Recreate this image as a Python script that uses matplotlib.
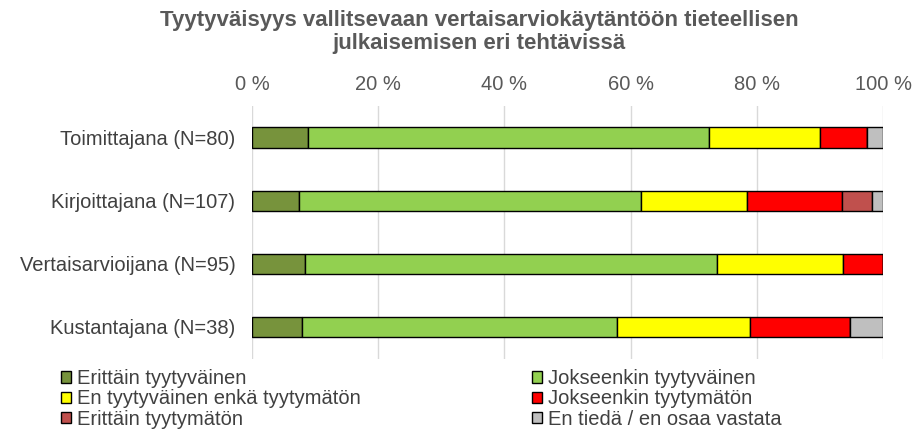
import matplotlib
matplotlib.use("Agg")
import matplotlib.pyplot as plt
import numpy as np

plt.rcParams['font.family'] = ['Liberation Sans', 'DejaVu Sans']

roles = ["Toimittajana (N=80)", "Kirjoittajana (N=107)",
         "Vertaisarvioijana (N=95)", "Kustantajana (N=38)"]
series_names = ["Erittäin tyytyväinen", "Jokseenkin tyytyväinen",
                "En tyytyväinen enkä tyytymätön", "Jokseenkin tyytymätön",
                "Erittäin tyytymätön", "En tiedä / en osaa vastata"]
# shares in percent, per role (same order as roles)
erittain_tyyt = [8.8, 7.5, 8.4, 7.9]
jokseenkin_tyyt = [63.7, 54.2, 65.3, 50.0]
en_kumpaakaan = [17.5, 16.8, 20.0, 21.1]
jokseenkin_tyytym = [7.5, 15.0, 6.3, 15.8]
erittain_tyytym = [0.0, 4.7, 0.0, 0.0]
en_tieda = [2.5, 1.8, 0.0, 5.2]
colors = ["#77933C", "#92D050", "#FFFF00", "#FF0000", "#C0504D", "#BFBFBF"]

data = [erittain_tyyt, jokseenkin_tyyt, en_kumpaakaan,
        jokseenkin_tyytym, erittain_tyytym, en_tieda]

fig = plt.figure(figsize=(9.13, 4.32), dpi=100)
ax = fig.add_axes([252 / 913, 1 - 358.5 / 432, 631 / 913, 252.5 / 432])

y = np.arange(len(roles))
left = np.zeros(len(roles))
handles = []
for vals, name, c in zip(data, series_names, colors):
    vals = np.array(vals)
    h = ax.barh(y, vals, left=left, height=0.32, color=c,
                edgecolor="black", linewidth=1, label=name, zorder=3)
    handles.append(h)
    left += vals

ax.set_xlim(0, 100)
ax.set_ylim(len(roles) - 0.5, -0.5)
ax.set_yticks(y)
ax.set_yticklabels(roles, fontsize=14.5, color="#404040")
ax.set_xticks(np.arange(0, 101, 20))
ax.set_xticklabels([f"{v} %" for v in range(0, 101, 20)], fontsize=14.5, color="#595959")
ax.xaxis.tick_top()
ax.tick_params(axis="x", length=0, pad=9)
ax.tick_params(axis="y", length=0, pad=12)
ax.grid(axis="x", color="#D9D9D9", linewidth=1, zorder=0)
for s in ax.spines.values():
    s.set_visible(False)

fig.text(479 / 913, 1 - 32 / 432, "Tyytyväisyys vallitsevaan vertaisarviokäytäntöön tieteellisen\njulkaisemisen eri tehtävissä",
         ha="center", va="center", fontsize=16, fontweight="bold", color="#595959",
         linespacing=1.1)

# row-wise order in a two-column legend
order = [0, 2, 4, 1, 3, 5]
leg = fig.legend([handles[i] for i in order], [series_names[i] for i in order],
                 ncol=2, loc="upper left",
                 bbox_to_anchor=(61 / 913, 1 - 369 / 432, 721 / 913, 0),
                 mode="expand", frameon=False, fontsize=14.5,
                 handlelength=0.5, handleheight=0.5, handletextpad=0.3,
                 labelspacing=0.07, borderpad=0, borderaxespad=0)
for t in leg.get_texts():
    t.set_color("#404040")

fig.savefig("out.png", dpi=100)
